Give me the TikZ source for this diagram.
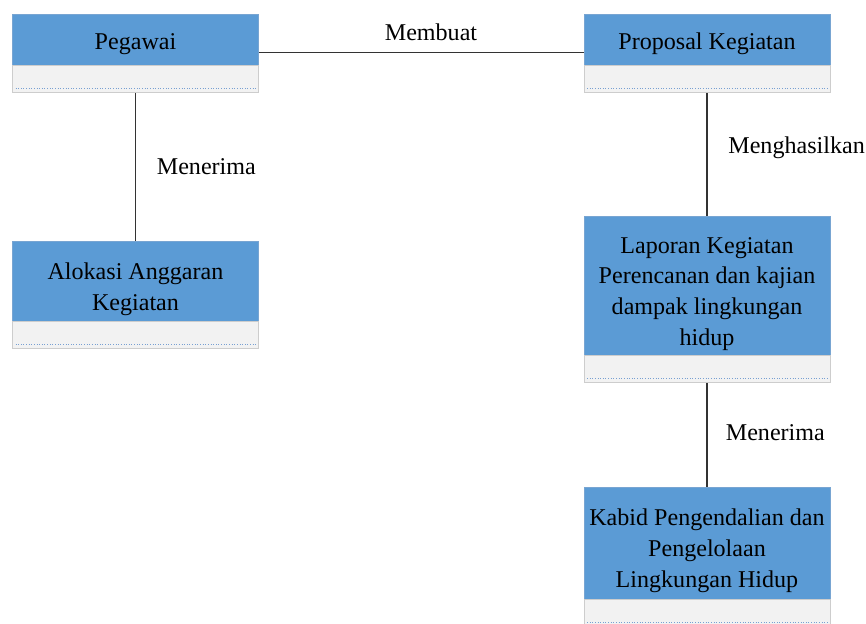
\documentclass[tikz,border=0pt]{standalone}
\usepackage{fontspec}
\setmainfont{Liberation Serif}
\newfontfamily\diagfont{Liberation Serif}
\usepackage{tikz}
\usetikzlibrary{positioning}
\definecolor{clsblue}{RGB}{91,155,213}
\definecolor{clsedge}{RGB}{120,165,210}
\definecolor{clsgray}{RGB}{242,242,242}
\definecolor{clsline}{RGB}{205,205,205}
\definecolor{clsdot}{RGB}{120,160,210}
\newcommand{\toppad}{\rule{0pt}{0.66cm}}

\begin{document}
\begin{tikzpicture}[
  every node/.style={font=\diagfont\fontsize{13.7}{17.6}\selectfont,text=black},
  entity/.style={rectangle,fill=clsblue,draw=clsedge,line width=0.4pt,
    minimum width=4.92cm,inner sep=0pt,align=center},
  compart/.style={rectangle,fill=clsgray,draw=clsline,line width=0.4pt,
    minimum width=4.92cm,minimum height=0.54cm,inner sep=0pt,
    path picture={\draw[clsdot,densely dotted,line width=0.5pt]
      ([shift={(0.06,0.09)}]path picture bounding box.south west) --
      ([shift={(-0.06,0.09)}]path picture bounding box.south east);}},
  link/.style={draw=black!80,line width=0.6pt}]
  \useasboundingbox (0,0) rectangle (17.32,-12.46);
  \clip (0,0) rectangle (17.32,-12.46);
  % top row
  \node[entity,minimum height=1.02cm] (peg) at (2.71,-0.79) {\rule{0pt}{0.52cm}Pegawai};
  \node[compart,below=0pt of peg] (pegc) {};
  \node[entity,minimum height=1.02cm] (prop) at (14.14,-0.79) {\rule{0pt}{0.52cm}Proposal Kegiatan};
  \node[compart,below=0pt of prop] (propc) {};
  % left column
  \node[entity,minimum height=1.6cm] (alok) at (2.71,-5.62) {\toppad Alokasi Anggaran\\Kegiatan};
  \node[compart,below=0pt of alok] (alokc) {};
  % right column
  \node[entity,minimum height=2.78cm] (lap) at (14.14,-5.71)
    {\toppad Laporan Kegiatan\\Perencanan dan kajian\\dampak lingkungan\\hidup};
  \node[compart,below=0pt of lap] (lapc) {};
  \node[entity,minimum height=2.24cm] (kab) at (14.14,-10.86)
    {\toppad Kabid Pengendalian dan\\Pengelolaan\\Lingkungan Hidup};
  \node[compart,below=0pt of kab] (kabc) {};
  % relations
  \draw[link] ([yshift=-0.26cm]peg.east) -- ([yshift=-0.26cm]prop.west)
    node[pos=0.53,above=0.1cm] (lblbuat) {Membuat};
  \draw[link] (pegc.south) -- (alok.north)
    node[pos=0.5,right=0.3cm] (lblterima1) {Menerima};
  \draw[link] (propc.south) -- (lap.north)
    node[pos=0.45,right=0.3cm] (lblhasil) {Menghasilkan};
  \draw[link] (lapc.south) -- (kab.north)
    node[pos=0.48,right=0.25cm] (lblterima2) {Menerima};
\end{tikzpicture}
\end{document}
